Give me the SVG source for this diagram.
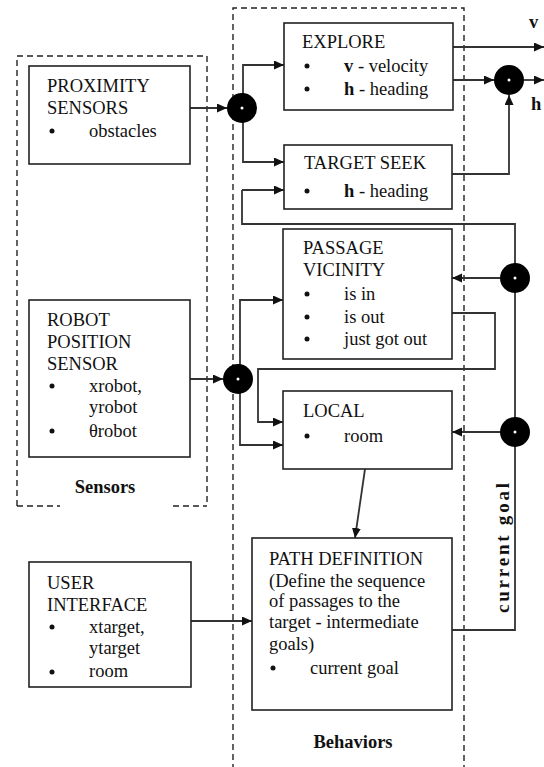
<svg xmlns="http://www.w3.org/2000/svg" width="544" height="767" viewBox="0 0 544 767" font-family="'Liberation Serif', 'DejaVu Serif', 'Times New Roman', serif">
  <defs>
    <marker id="arrow" markerUnits="userSpaceOnUse" markerWidth="11" markerHeight="10" refX="10" refY="4.5" orient="auto">
      <path d="M0,0 L10,4.5 L0,9 z" fill="#111"/>
    </marker>
    <style>
      text { font-family: 'Liberation Serif', 'DejaVu Serif', 'Times New Roman', serif; font-size: 18.5px; fill: #111; }
      .b { font-weight: bold; }
      .box { fill: #fff; stroke: #222; stroke-width: 1.6; }
      .group { fill: none; stroke: #222; stroke-width: 1.4; stroke-dasharray: 6 4; }
      .wire { fill: none; stroke: #333; stroke-width: 1.8; }
      .arr { marker-end: url(#arrow); }
      .dot { fill: #111; }
      .hole { fill: #fff; }
      .junction { fill: #000; }
    </style>
  </defs>
  <rect width="544" height="767" fill="#fff"/>

  <!-- grouping frames -->
  <g id="sensors-frame">
    <path class="group" d="M17,506 V56 H207 V506"/>
    <path class="group" d="M17,506 H60 M173,506 H207"/>
    <text class="b" x="105" y="493" text-anchor="middle">Sensors</text>
  </g>
  <g id="behaviors-frame">
    <path class="group" d="M233,770 V8 H464 V770"/>
    <text class="b" x="353" y="748" text-anchor="middle">Behaviors</text>
  </g>

  <!-- connectors -->
  <g id="connectors">
    <!-- proximity sensors to junction -->
    <line class="wire arr" x1="190" y1="108" x2="227" y2="108"/>
    <path class="wire arr" d="M243,108 V65 H284"/>
    <path class="wire arr" d="M243,108 V162 H284"/>
    <!-- explore outputs -->
    <line class="wire arr" x1="453" y1="47" x2="544" y2="47"/>
    <line class="wire arr" x1="453" y1="80" x2="494" y2="80"/>
    <line class="wire arr" x1="524" y1="80" x2="544" y2="80"/>
    <!-- target seek to heading junction -->
    <path class="wire arr" d="M452,174 H509 V95"/>
    <!-- current goal bus -->
    <path class="wire" d="M452,630 H515 V224 H242 V190"/>
    <path class="wire arr" d="M242,190 H284"/>
    <line class="wire arr" x1="500" y1="278" x2="452" y2="278"/>
    <line class="wire arr" x1="500" y1="432" x2="452" y2="432"/>
    <!-- passage vicinity to local -->
    <path class="wire arr" d="M452,313 H495 V369 H258 V422 H283"/>
    <!-- robot position to junction -->
    <line class="wire arr" x1="190" y1="379" x2="223" y2="379"/>
    <path class="wire arr" d="M240,379 V300 H283"/>
    <path class="wire arr" d="M240,379 V445 H283"/>
    <!-- local to path definition -->
    <line class="wire arr" x1="365" y1="469" x2="355" y2="538"/>
    <!-- user interface to path definition -->
    <line class="wire arr" x1="191" y1="621" x2="252" y2="621"/>
    <!-- junctions -->
    <circle class="junction" cx="242" cy="108" r="15"/>
    <circle class="hole" cx="242" cy="108" r="1.5"/>
    <circle class="junction" cx="509" cy="80" r="15"/>
    <circle class="hole" cx="509" cy="80" r="1.5"/>
    <circle class="junction" cx="515" cy="278" r="15"/>
    <circle class="hole" cx="515" cy="278" r="1.5"/>
    <circle class="junction" cx="515" cy="432" r="15"/>
    <circle class="hole" cx="515" cy="432" r="1.5"/>
    <circle class="junction" cx="238" cy="379" r="15"/>
    <circle class="hole" cx="238" cy="379" r="1.5"/>
    <!-- labels -->
    <text class="b" x="529" y="28">v</text>
    <text class="b" x="531" y="110">h</text>
    <text class="b" transform="translate(509,548) rotate(-90)" text-anchor="middle" textLength="130" lengthAdjust="spacing" style="font-size:19px">current  goal</text>
  </g>

  <g id="proximity-sensors">
    <rect class="box" x="29" y="66" width="161" height="98"/>
    <text x="47" y="92">PROXIMITY</text>
    <text x="47" y="114">SENSORS</text>
    <circle class="dot" cx="52" cy="131" r="2.5"/>
    <text x="89" y="137">obstacles</text>
  </g>

  <g id="robot-position-sensor">
    <rect class="box" x="29" y="300" width="161" height="157"/>
    <text x="47" y="326">ROBOT</text>
    <text x="47" y="348">POSITION</text>
    <text x="47" y="370">SENSOR</text>
    <circle class="dot" cx="52" cy="386" r="2.5"/>
    <text x="89" y="392">xrobot,</text>
    <text x="89" y="413">yrobot</text>
    <circle class="dot" cx="52" cy="431" r="2.5"/>
    <text x="89" y="437">θrobot</text>
  </g>

  <g id="user-interface">
    <rect class="box" x="29" y="562" width="162" height="125"/>
    <text x="47" y="589">USER</text>
    <text x="47" y="611">INTERFACE</text>
    <circle class="dot" cx="52" cy="627" r="2.5"/>
    <text x="89" y="633">xtarget,</text>
    <text x="89" y="654">ytarget</text>
    <circle class="dot" cx="52" cy="672" r="2.5"/>
    <text x="89" y="677">room</text>
  </g>

  <g id="explore">
    <rect class="box" x="284" y="23" width="169" height="87"/>
    <text x="302" y="48">EXPLORE</text>
    <circle class="dot" cx="307" cy="66" r="2.5"/>
    <text x="344" y="72"><tspan class="b">v</tspan> - velocity</text>
    <circle class="dot" cx="307" cy="89" r="2.5"/>
    <text x="344" y="95"><tspan class="b">h</tspan> - heading</text>
  </g>

  <g id="target-seek">
    <rect class="box" x="284" y="145" width="168" height="64"/>
    <text x="304" y="169">TARGET SEEK</text>
    <circle class="dot" cx="307" cy="191" r="2.5"/>
    <text x="344" y="197"><tspan class="b">h</tspan> - heading</text>
  </g>

  <g id="passage-vicinity">
    <rect class="box" x="283" y="229" width="169" height="130"/>
    <text x="303" y="254">PASSAGE</text>
    <text x="303" y="276">VICINITY</text>
    <circle class="dot" cx="307" cy="294" r="2.5"/>
    <text x="344" y="300">is in</text>
    <circle class="dot" cx="307" cy="317" r="2.5"/>
    <text x="344" y="323">is out</text>
    <circle class="dot" cx="307" cy="339" r="2.5"/>
    <text x="344" y="345">just got out</text>
  </g>

  <g id="local">
    <rect class="box" x="283" y="391" width="169" height="78"/>
    <text x="303" y="417">LOCAL</text>
    <circle class="dot" cx="307" cy="436" r="2.5"/>
    <text x="344" y="442">room</text>
  </g>

  <g id="path-definition">
    <rect class="box" x="252" y="538" width="200" height="172"/>
    <text x="269" y="565">PATH DEFINITION</text>
    <text x="269" y="587">(Define the sequence</text>
    <text x="269" y="607">of passages to the</text>
    <text x="269" y="628">target - intermediate</text>
    <text x="269" y="650">goals)</text>
    <circle class="dot" cx="273" cy="668" r="2.5"/>
    <text x="310" y="674">current goal</text>
  </g>
</svg>
